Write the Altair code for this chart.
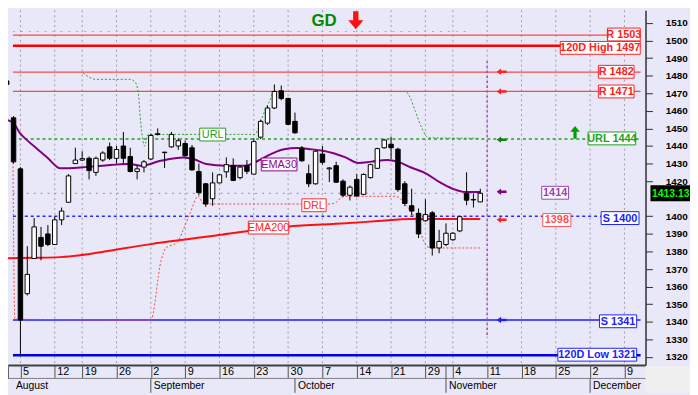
import altair as alt
import pandas as pd

# ---------------- data ----------------
cand_k = list(range(-2, 68))
opens = [1477, 1456, 1427, 1356, 1376, 1388, 1390, 1384, 1398, 1408,
         1430, 1432, 1433, 1425, 1432, 1439.5, 1433, 1440, 1434, 1425.5,
         1428, 1432.6, 1446.5, 1436.2, 1439.5, 1440, 1441.4, 1439, 1425.5, 1418.5,
         1410, 1419, 1425.3, 1428.8, 1422, 1428.8, 1424, 1445, 1453, 1461.6,
         1471.4, 1467, 1454, 1438.8, 1424.2, 1418.5, 1435.4, 1427, 1428.8, 1420,
         1412, 1421, 1412.5, 1422, 1427.3, 1439, 1441, 1438.2, 1418.5, 1406,
         1401.7, 1397.5, 1402, 1382, 1384, 1386.7, 1391.7, 1413, 1409.6, 1408.2]
highs = [1482, 1457, 1428, 1383, 1399, 1394, 1395, 1400, 1405, 1424,
         1439, 1437, 1434, 1434, 1437, 1442, 1440, 1448, 1439, 1429,
         1432, 1447, 1450, 1436.5, 1448, 1444.4, 1443, 1440.6, 1430, 1419,
         1425, 1424, 1433.5, 1433, 1429, 1432, 1444.4, 1455, 1463, 1475,
         1474.4, 1467.5, 1459, 1440, 1429.4, 1437.5, 1440, 1428, 1431, 1421,
         1417.5, 1424, 1424.5, 1430, 1439, 1444, 1445.3, 1439, 1420, 1415.7,
         1404.5, 1409.7, 1403, 1392.3, 1396, 1391, 1400.3, 1425, 1413, 1415.7]
lows = [1464, 1430, 1321, 1355, 1376, 1375, 1383, 1384, 1395, 1408,
        1430, 1431.5, 1421, 1423, 1431, 1432, 1430, 1430, 1425, 1421,
        1425, 1432, 1446, 1427.5, 1439, 1437.8, 1434, 1426, 1412, 1405.4,
        1406, 1419, 1422, 1420, 1421, 1424, 1424, 1444, 1452, 1461,
        1466, 1452, 1447, 1431, 1416.6, 1418, 1429.4, 1419.5, 1419, 1411,
        1409, 1411, 1412, 1421.5, 1427, 1438.5, 1432.6, 1414, 1405.8, 1400.7,
        1387.6, 1397, 1377.7, 1379, 1383, 1386, 1391, 1406.3, 1405, 1408]
closes = [1475, 1431, 1341, 1367, 1394, 1383, 1384, 1398, 1403, 1423,
          1432, 1432.8, 1426, 1433, 1436, 1433, 1438, 1433, 1425.5, 1427,
          1431, 1446, 1447, 1436.5, 1446.6, 1443, 1434.4, 1426.4, 1413.5, 1407,
          1419, 1423.6, 1429.4, 1420.4, 1428, 1425.6, 1442.5, 1454, 1461.6, 1471,
          1467, 1452.3, 1447.5, 1431.6, 1418.5, 1437, 1430.7, 1427.5, 1419.4, 1412,
          1416.6, 1411.6, 1423.8, 1429.4, 1438.5, 1443.4, 1439, 1415.2, 1407.3, 1403,
          1390, 1401, 1382, 1385.7, 1390.4, 1390.4, 1399.8, 1409.2, 1409.3, 1413.13]

ema30_k = [-2.2, -1.05, -0.1, 1.08, 2.49, 3.91, 5.81, 9.11, 11.95, 15.73, 17.62, 20.45,
           23.75, 25.17, 27.07, 29.9, 32.73, 34.62, 36.5, 38.4, 40.29, 42.17, 44.07,
           47.37, 49.26, 51.15, 53.51, 54.92, 56.82, 59.18, 61.07, 62.96, 64.85, 67.0]
ema30_v = [1455, 1453.2, 1447.5, 1442.9, 1438.2, 1433.5, 1427.3, 1427.9, 1428.8, 1429.8, 1428.8, 1431.6,
           1433.5, 1432.6, 1429.8, 1428.8, 1428.8, 1431.6, 1435.4, 1438.2, 1438.8, 1438.2, 1437.3,
           1433.5, 1430.3, 1431.1, 1432, 1431.1, 1427.9, 1424.2, 1419.4, 1415.7, 1413.8, 1413.8]

ema200_k = [-2.2, 2.03, 5.81, 10.06, 13.83, 19.03, 23.75, 28.48, 33.2, 38.87, 47.37, 52.09, 56.82, 61.54, 67.0]
ema200_v = [1376.2, 1376.4, 1376.8, 1378.6, 1381, 1384.2, 1386.7, 1389.1, 1391.7, 1394.1, 1396, 1397.3, 1398.5, 1398.5, 1398.5]

url_k = [9.11, 11.0, 15.96, 16.66, 17.15, 17.51, 17.85, 18.08, 18.6, 34.15, 34.86, 35.57, 36.28,
         36.98, 56.11, 56.82, 57.53, 58.47, 59.42, 66.93]
url_v = [1481.6, 1477.9, 1477.9, 1476.6, 1471, 1454, 1442.9, 1440, 1446.6, 1446.6, 1452.3, 1459.7, 1465.4,
         1471, 1471, 1467.2, 1459.7, 1450.4, 1444.7, 1444.4]

drl_k = [-1.09, -0.81, 19.0, 20.5, 21.2, 22.8, 24.0, 24.7, 25.9, 26.7, 45.0, 46.0, 46.9, 47.8,
         54.5, 55.2, 55.9, 57.1, 58.3, 59.2, 59.8, 67.0]
drl_v = [1433, 1341.5, 1341, 1375, 1382, 1385, 1395, 1401.6, 1411.5, 1407, 1407, 1408, 1411, 1411.4,
         1411.4, 1410.6, 1407.3, 1401.7, 1390.4, 1383, 1382, 1382]

tick_k = [0, 5, 9, 14, 19, 24, 29, 34, 39, 44, 49, 54, 59, 63, 68, 73, 78, 83, 88]
tick_lbl = ["5", "12", "19", "26", "2", "9", "16", "23", "30", "7", "14", "21", "29",
            "4", "11", "18", "25", "2", "9"]
month_names = ["August", "September", "October", "November", "December"]
month_k = [-1.09, 19, 40, 62, 83]

# price labels on the right axis (1410 sits under the last-price tag, as in the reference)
price_ticks = [1320, 1330, 1340, 1350, 1360, 1370, 1380, 1390, 1400, 1420, 1430, 1440,
               1450, 1460, 1470, 1480, 1490, 1500, 1510, 1520]

level_v = [1503, 1497, 1482, 1471, 1444, 1400, 1341, 1321, 1505.1, 1413.1]
level_k1 = [90.35, 90.35, 90.35, 90.35, 90.35, 90.35, 90.35, 90.35, 65.5, 67.2]
level_color = ["#FF4646", "#FF0000", "#FF4646", "#FF4646", "#22A022", "#2828FF", "#5050FF", "#0000F0",
               "#F09090", "#C070C0"]
level_width = [1.3, 2.5, 1.3, 1.3, 1.5, 1.5, 2, 2.5, 1, 1]
level_dash = [[1, 0], [1, 0], [1, 0], [1, 0], [3, 3], [3, 3], [1, 0], [1, 0], [2, 6], [2, 5]]

rlab_text = ["R 1503", "120D High 1497", "R 1482", "R 1471", "URL 1444", "1414", "1398",
             "S 1400", "S 1341", "120D Low 1321"]
rlab_v = [1503.4, 1495.8, 1482.2, 1471, 1444.3, 1413.4, 1397.9, 1399, 1340.3, 1321.3]
rlab_kl = [85.53, 78.65, 84.2, 84.2, 82.7, 75.95, 76.1, 84.6, 84.36, 78.3]
rlab_kr = [90.3, 90.3, 89.4, 89.4, 89.64, 79.86, 80.2, 90.12, 89.78, 89.78]
rlab_color = ["#FF2020", "#FF2020", "#FF2020", "#FF2020", "#22A022", "#A040B0", "#FF5050",
              "#2020FF", "#2020FF", "#2020FF"]

ilab_text = ["URL", "EMA30", "DRL", "EMA200"]
ilab_v = [1446.5, 1429.5, 1406.3, 1393.6]
ilab_kl = [26.12, 35.09, 41.0, 33.2]
ilab_kr = [29.9, 40.29, 44.54, 39.1]
ilab_color = ["#22A022", "#900090", "#FF3030", "#FF2020"]

arrow_v = [1482.2, 1471, 1443.6, 1414, 1398, 1341]
arrow_color = ["#FF2020", "#FF2020", "#108010", "#800080", "#FF2020", "#2020FF"]
arrow_k = 70.1

last_price = 1413.13

# ---------------- layout ----------------
W, H = 645, 359
K0, K1 = -1.09, 90.35
V0, V1 = 1315.4, 1517.2
BG = "#E8E8F8"
FONT = "Liberation Sans"

xs = alt.Scale(domain=[K0, K1], nice=False, zero=False)
ys = alt.Scale(domain=[V0, V1], nice=False, zero=False)

label_expr = ("[" + ",".join(f"'{s}'" for s in tick_lbl) + "][indexof(["
              + ",".join(str(v) for v in tick_k) + "], datum.value)]")

xaxis = alt.Axis(values=tick_k, labelExpr=label_expr, labelAlign="left", labelBaseline="top",
                 labelOffset=2, labelPadding=-12, tickSize=13, tickColor="#505050", tickWidth=1,
                 grid=False, domainColor="#404040", domainWidth=2, labelFontSize=11,
                 labelColor="#000000", labelFont=FONT, title=None, labelFlush=False,
                 labelOverlap=False, labelBound=False)
yaxis = alt.Axis(orient="right", values=price_ticks, format="d", tickSize=7, tickColor="#303030",
                 domainColor="#303030", domainWidth=1.5, labelFontSize=10, labelFontWeight="bold",
                 labelColor="#000000", labelFont=FONT, labelPadding=13, grid=False, title=None,
                 labelFlush=False, labelOverlap=False, labelBound=False)


def X(f="k"):
    return alt.X(f"{f}:Q", scale=xs, axis=xaxis)


def Y(f="v"):
    return alt.Y(f"{f}:Q", scale=ys, axis=yaxis)


cdf = pd.DataFrame({"k": cand_k, "open": opens, "high": highs, "low": lows, "close": closes})
one = pd.DataFrame({"a": [0]})

layers = []

# invisible layer that carries both axes
layers.append(alt.Chart(cdf).mark_point(opacity=0).encode(x=X(), y=Y("close")))

# weekly dotted grid
layers.append(alt.Chart(pd.DataFrame({"k": tick_k})).mark_rule(
    color="#9C9CA8", strokeWidth=1, strokeDash=[2, 3]).encode(
    x=X(), y=alt.value(0), y2=alt.value(H)))

# axis frame pieces below the plot
layers.append(alt.Chart(one).mark_rect(fill="#F0F0F0").encode(
    x=alt.value(W), x2=alt.value(W + 45), y=alt.value(H + 1), y2=alt.value(H + 28)))
layers.append(alt.Chart(one).mark_rule(color="#808080", strokeWidth=1).encode(
    x=alt.value(0), x2=alt.value(W), y=alt.value(H + 13.5)))
layers.append(alt.Chart(one).mark_rule(color="#606060", strokeWidth=1).encode(
    x=alt.value(0.5), y=alt.value(H), y2=alt.value(H + 13.5)))
mdf = pd.DataFrame({"k": month_k, "m": month_names})
layers.append(alt.Chart(mdf).transform_filter("datum.k > 0").mark_rule(color="#505050", strokeWidth=1).encode(
    x=X(), y=alt.value(H + 13.5), y2=alt.value(H + 28)))
layers.append(alt.Chart(mdf).transform_filter("datum.m == 'November'").mark_rule(color="#505050", strokeWidth=1).encode(
    x=X(), y=alt.value(H), y2=alt.value(H + 13.5)))
layers.append(alt.Chart(mdf).mark_text(align="left", baseline="middle", dx=3, fontSize=10.5,
                                       font=FONT, color="#000000").encode(
    x=X(), y=alt.value(H + 21.5), text="m:N"))

# horizontal levels
for i in range(len(level_v)):
    ldf = pd.DataFrame({"k0": [K0], "k1": [level_k1[i]], "v": [level_v[i]]})
    layers.append(alt.Chart(ldf).mark_rule(color=level_color[i], strokeWidth=level_width[i],
                                           strokeDash=level_dash[i], clip=True).encode(
        x=X("k0"), x2="k1:Q", y=Y()))

# trails
layers.append(alt.Chart(pd.DataFrame({"k": url_k, "v": url_v})).mark_line(
    color="#30A030", strokeWidth=1, strokeDash=[2, 2], interpolate="monotone", clip=True).encode(x=X(), y=Y()))
layers.append(alt.Chart(pd.DataFrame({"k": drl_k, "v": drl_v})).mark_line(
    color="#FF4040", strokeWidth=1, strokeDash=[2, 2], interpolate="monotone", clip=True).encode(x=X(), y=Y()))

# vertical purple dotted marker
layers.append(alt.Chart(pd.DataFrame({"k": [68], "v0": [1332.5], "v1": [1488.7]})).mark_rule(
    color="#B040B0", strokeWidth=1.5, strokeDash=[2, 3]).encode(x=X(), y=Y("v0"), y2="v1:Q"))

# EMAs
layers.append(alt.Chart(pd.DataFrame({"k": ema200_k, "v": ema200_v})).mark_line(
    color="#FF1010", strokeWidth=2, interpolate="monotone", clip=True).encode(x=X(), y=Y()))
layers.append(alt.Chart(pd.DataFrame({"k": ema30_k, "v": ema30_v})).mark_line(
    color="#800080", strokeWidth=2, interpolate="monotone", clip=True).encode(x=X(), y=Y()))

# candles
layers.append(alt.Chart(cdf).mark_rule(color="black", strokeWidth=1, clip=True).encode(
    x=X(), y=Y("low"), y2="high:Q"))
layers.append(alt.Chart(cdf).mark_bar(size=4.5, stroke="black", strokeWidth=1, clip=True).encode(
    x=X(), y=Y("open"), y2="close:Q",
    fill=alt.condition("datum.close < datum.open", alt.value("black"), alt.value("white"))))

# boxed labels
HB = 3.65
rdf = pd.DataFrame({"t": rlab_text, "v": rlab_v, "kl": rlab_kl, "kr": rlab_kr, "c": rlab_color})
rdf["vb"] = rdf["v"] - HB
rdf["vt"] = rdf["v"] + HB
rdf["kc"] = (rdf["kl"] + rdf["kr"]) / 2
idf = pd.DataFrame({"t": ilab_text, "v": ilab_v, "kl": ilab_kl, "kr": ilab_kr, "c": ilab_color})
idf["vb"] = idf["v"] - HB
idf["vt"] = idf["v"] + HB
idf["kc"] = (idf["kl"] + idf["kr"]) / 2
for d, weight in ((rdf, "bold"), (idf, "normal")):
    layers.append(alt.Chart(d).mark_rect(fill="white", strokeWidth=1).encode(
        x=X("kl"), x2="kr:Q", y=Y("vb"), y2="vt:Q", stroke=alt.Stroke("c:N", scale=None)))
    layers.append(alt.Chart(d).mark_text(fontSize=11, fontWeight=weight, font=FONT,
                                         baseline="middle", dy=0.5).encode(
        x=X("kc"), y=Y(), text="t:N", color=alt.Color("c:N", scale=None)))

# small arrows
left_arrow = "M-1,0L-0.1,-0.65L-0.1,-0.25L1,-0.25L1,0.25L-0.1,0.25L-0.1,0.65Z"
adf = pd.DataFrame({"k": [arrow_k] * len(arrow_v), "v": arrow_v, "c": arrow_color})
layers.append(alt.Chart(adf).mark_point(shape=left_arrow, size=100, filled=True, opacity=1).encode(
    x=X(), y=Y(), color=alt.Color("c:N", scale=None)))

# big arrows and GD
down_arrow = "M-0.3,-1L0.3,-1L0.3,0L0.85,0L0,1L-0.85,0L-0.3,0Z"
up_arrow = "M0,-1L0.75,-0.1L0.25,-0.1L0.25,1L-0.25,1L-0.25,-0.1L-0.75,-0.1Z"
layers.append(alt.Chart(pd.DataFrame({"k": [48.86], "v": [1511.5]})).mark_point(
    shape=down_arrow, size=324, filled=True, opacity=1, color="#FF1010").encode(x=X(), y=Y()))
layers.append(alt.Chart(pd.DataFrame({"k": [80.8], "v": [1447.7]})).mark_point(
    shape=up_arrow, size=169, filled=True, opacity=1, color="#00A000").encode(x=X(), y=Y()))
layers.append(alt.Chart(pd.DataFrame({"k": [44.25], "v": [1510.9], "t": ["GD"]})).mark_text(
    fontSize=17, fontWeight="bold", font=FONT, color="#008800", baseline="middle").encode(
    x=X(), y=Y(), text="t:N"))

# last price tag on the axis
lp = pd.DataFrame({"v": [last_price], "vb": [last_price - 4.6], "vt": [last_price + 4.6],
                   "t": [f"{last_price:.2f}"]})
layers.append(alt.Chart(lp).mark_rect(fill="black").encode(
    x=alt.value(W + 5), x2=alt.value(W + 46), y=Y("vb"), y2="vt:Q"))
layers.append(alt.Chart(lp).mark_text(fontSize=10.5, fontWeight="bold", font=FONT, color="#00FF00",
                                      baseline="middle", align="center", dy=0.5).encode(
    x=alt.value(W + 25.5), y=Y(), text="t:N"))

chart = alt.layer(*layers).properties(
    width=W, height=H,
    autosize=alt.AutoSizeParams(type="none"),
    padding={"left": 0, "top": 0, "right": 45, "bottom": 28},
).configure(background=BG, font=FONT).configure_view(fill=BG, stroke=None)

chart.save("out.html", embed_options={"renderer": "svg", "actions": False})
